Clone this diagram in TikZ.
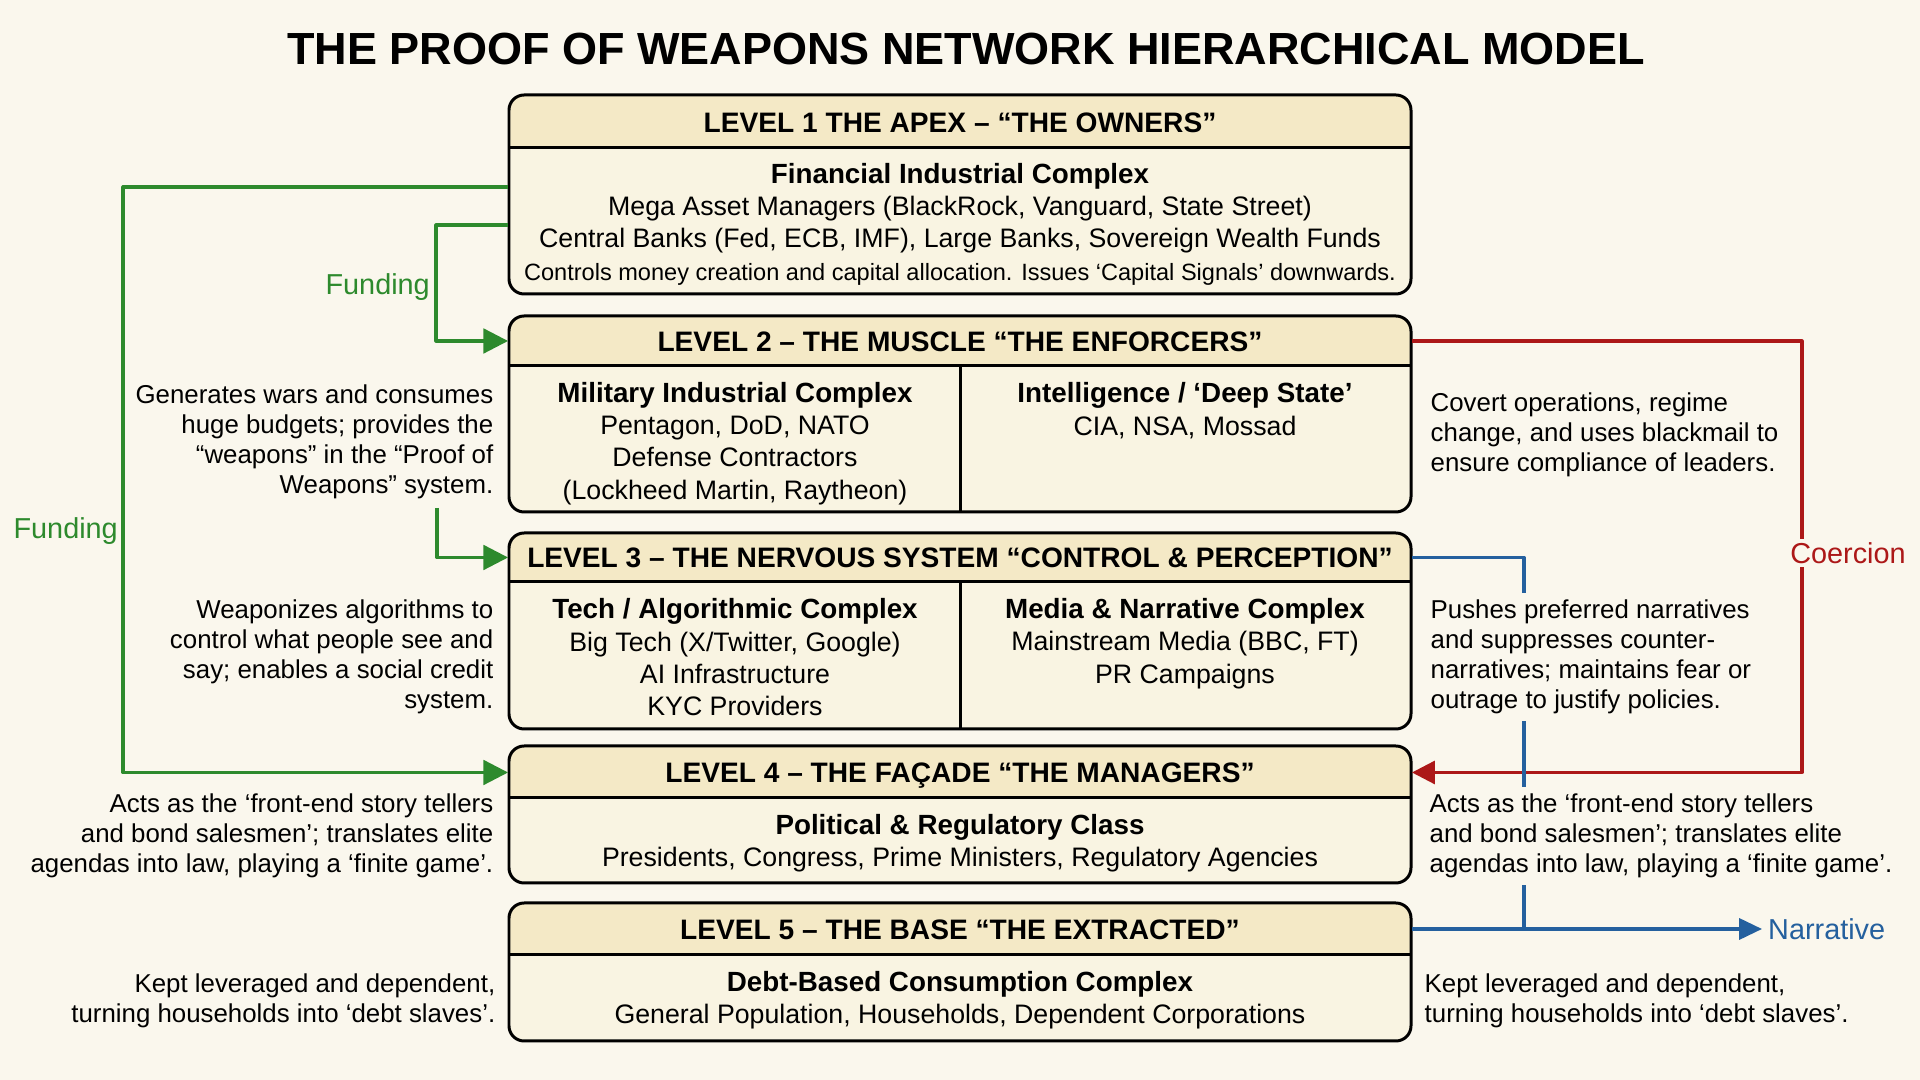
\documentclass[tikz,border=0pt]{standalone}
\usepackage{fontspec}
\setmainfont{Liberation Sans}
\usetikzlibrary{arrows.meta,positioning}
\definecolor{paper}{RGB}{250,247,237}
\definecolor{headfill}{RGB}{244,233,198}
\definecolor{bodyfill}{RGB}{249,244,226}
\definecolor{fundgreen}{RGB}{45,138,45}
\definecolor{coerred}{RGB}{172,24,24}
\definecolor{narrblue}{RGB}{36,96,158}
\newcommand{\fsz}[2]{\fontsize{#1}{#2}\selectfont}
\tikzset{
  lvlhead/.style={minimum width=9.02cm,inner sep=0pt,text height=5.75pt,text depth=0pt,font=\fsz{8}{10}\bfseries},
  lvlbody/.style={align=center,inner sep=0pt,font=\fsz{7.6}{9.2}},
  sidenote/.style={inner xsep=0pt,inner ysep=2pt,fill=paper,font=\fsz{7.35}{8.5}},
  flowlabel/.style={inner sep=1pt,font=\fsz{8.2}{10}},
  fundline/.style={draw=fundgreen,line width=.9pt,-{Triangle[length=7pt,width=7pt]}},
  coerline/.style={draw=coerred,line width=.9pt,-{Triangle[length=6.5pt,width=6.5pt]}},
  narrline/.style={draw=narrblue,line width=.9pt},
}
\begin{document}
\begin{tikzpicture}[x=.01cm,y=-.01cm,line join=round,line cap=butt]
\def\bl{509} \def\br{1411} \def\rad{4.3pt}
\fill[paper] (0,0) rectangle (1920,1080);
\useasboundingbox (0,0) rectangle (1920,1080);
% boxes: top / divider / bottom
\foreach \t/\d/\b in {95/148/294,316/366/512,533/582/729,746/798/883,903/955/1041}{
  \begin{scope}
    \clip[rounded corners=\rad] (\bl,\t) rectangle (\br,\b);
    \fill[bodyfill] (\bl,\t) rectangle (\br,\b);
    \fill[headfill] (\bl,\t) rectangle (\br,\d);
  \end{scope}
  \draw[line width=.85pt] (\bl,\d) -- (\br,\d);
  \draw[line width=.85pt,rounded corners=\rad] (\bl,\t) rectangle (\br,\b);
}
\draw[line width=.85pt] (960,366) -- (960,512) (960,582) -- (960,729);

\node[font=\fsz{12.8}{15}\bfseries] (title) at (966,49) {THE PROOF OF WEAPONS NETWORK HIERARCHICAL MODEL};

% headers
\node[lvlhead] (h1) at (960,122.5) {LEVEL 1 THE APEX – “THE OWNERS”};
\node[lvlhead] (h2) at (960,341) {LEVEL 2 – THE MUSCLE “THE ENFORCERS”};
\node[lvlhead] (h3) at (960,557.5) {LEVEL 3 – THE NERVOUS SYSTEM “CONTROL \& PERCEPTION”};
\node[lvlhead] (h4) at (960,772.5) {LEVEL 4 – THE FAÇADE “THE MANAGERS”};
\node[lvlhead] (h5) at (960,929) {LEVEL 5 – THE BASE “THE EXTRACTED”};

% contents
\node[lvlbody,minimum width=9.02cm,minimum height=1.46cm] (b1) at (960,224) {{\bfseries\fsz{7.9}{9.3}Financial Industrial Complex}\\Mega Asset Managers (BlackRock, Vanguard, State Street)\\Central Banks (Fed, ECB, IMF), Large Banks, Sovereign Wealth Funds\\{\fsz{6.7}{9.3}Controls money creation and capital allocation. Issues ‘Capital Signals’ downwards.}};
\node[lvlbody] (b2a) at (735,443.5) {{\bfseries\fsz{7.9}{9.2}Military Industrial Complex}\\Pentagon, DoD, NATO\\Defense Contractors\\(Lockheed Martin, Raytheon)};
\node[lvlbody] (b2b) at (1185,410.5) {{\bfseries\fsz{7.9}{9.2}Intelligence / ‘Deep State’}\\CIA, NSA, Mossad};
\node[lvlbody] (b3a) at (735,657.5) {{\bfseries\fsz{7.9}{9.2}Tech / Algorithmic Complex}\\Big Tech (X/Twitter, Google)\\AI Infrastructure\\KYC Providers};
\node[lvlbody] (b3b) at (1185,643.5) {{\bfseries\fsz{7.9}{9.2}Media \& Narrative Complex}\\Mainstream Media (BBC, FT)\\PR Campaigns};
\node[lvlbody] (b4) at (960,843.5) {{\bfseries\fsz{7.9}{9.2}Political \& Regulatory Class}\\Presidents, Congress, Prime Ministers, Regulatory Agencies};
\node[lvlbody] (b5) at (960,1000.5) {{\bfseries\fsz{7.9}{9.2}Debt-Based Consumption Complex}\\General Population, Households, Dependent Corporations};

% flows
\draw[fundline] ([yshift=.37cm]b1.west) -- ++(-385,0) |- (h4.west);
\draw[fundline] ([yshift=-.01cm]b1.west) -- ++(-72,0) |- (h2.west);
\coordinate (g3) at (437,508);
\draw[fundline] (g3) |- (h3.west);
\draw[coerline] (h2.east) -- ++(390,0) |- (h4.east);
\draw[narrline] (h3.east) -- ++(112,0) |- (h5.east);
\coordinate (narrtip) at (1762,929);
\draw[narrline,-{Triangle[length=6.5pt,width=6pt]}] (h5.east) -- (narrtip);

\node[flowlabel,text=fundgreen,anchor=east] (fund1) at (434,287) {Funding};
\node[flowlabel,text=fundgreen,anchor=east] (fund2) at (122,531) {Funding};
\node[flowlabel,text=coerred,fill=paper] (coer) at (1848,553) {Coercion};
\node[flowlabel,text=narrblue,anchor=west] (narr) at (1764,929) {Narrative};

% side notes
\node[sidenote,align=right,anchor=east] (n2l) at (494,442) {Generates wars and consumes\\huge budgets; provides the\\“weapons” in the “Proof of\\Weapons” system.};
\node[sidenote,align=right,anchor=east] (n3l) at (494,657) {Weaponizes algorithms to\\control what people see and\\say; enables a social credit\\system.};
\node[sidenote,align=right,anchor=east] (n4l) at (494,836) {Acts as the ‘front-end story tellers\\and bond salesmen’; translates elite\\agendas into law, playing a ‘finite game’.};
\node[sidenote,align=right,anchor=east] (n5l) at (496,1001) {Kept leveraged and dependent,\\turning households into ‘debt slaves’.};
\node[sidenote,align=left,anchor=west] (n2r) at (1430,435) {Covert operations, regime\\change, and uses blackmail to\\ensure compliance of leaders.};
\node[sidenote,align=left,anchor=west] (n3r) at (1430,657) {Pushes preferred narratives\\and suppresses counter-\\narratives; maintains fear or\\outrage to justify policies.};
\node[sidenote,align=left,anchor=west] (n4r) at (1429,836) {Acts as the ‘front-end story tellers\\and bond salesmen’; translates elite\\agendas into law, playing a ‘finite game’.};
\node[sidenote,align=left,anchor=west] (n5r) at (1424,1001) {Kept leveraged and dependent,\\turning households into ‘debt slaves’.};
\end{tikzpicture}
\end{document}
